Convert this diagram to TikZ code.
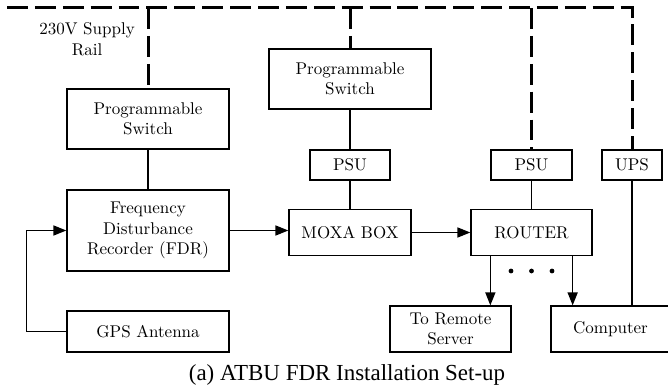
\documentclass[tikz,border=0pt]{standalone}
\usepackage{fontspec}
\newfontfamily\capfont{Liberation Serif}
\usetikzlibrary{arrows.meta}
\def\u{0.588pt}
\begin{document}
\begin{tikzpicture}[x=\u,y=-\u,
  box/.style={draw, line width=0.76pt, inner sep=0pt, align=center, font=\fontsize{10}{12}\selectfont},
  sz/.style 2 args={minimum width=#1*\u, minimum height=#2*\u},
  rail/.style={line width=1.76pt, dash pattern=on 12.3pt off 4.1pt},
  wire/.style={line width=0.76pt},
  arr/.style={wire, -{Triangle[length=7.6pt,width=5.9pt]}},
  lbl/.style={align=center, inner sep=0pt, font=\fontsize{10}{12}\selectfont}]
\useasboundingbox (0,0) rectangle (668,392);
% boxes
\node[box, sz={162}{60}] (ps1) at (148,119) {Programmable\\Switch};
\node[box, sz={162}{60}] (ps2) at (350,79) {Programmable\\Switch};
\node[box, sz={80}{30}] (psu1) at (350,165) {PSU};
\node[box, sz={81}{30}] (psu2) at (531.5,165) {PSU};
\node[box, sz={60}{30}] (ups) at (632,165) {UPS};
\node[box, sz={162}{81}] (fdr) at (148,230.5) {Frequency\\Disturbance\\Recorder (FDR)};
\node[box, sz={122}{46}] (moxa) at (350,232.5) {MOXA BOX};
\node[box, sz={121}{46}] (router) at (531.5,232.5) {ROUTER};
\node[box, sz={162}{41}] (gps) at (148,331.5) {GPS Antenna};
\node[box, sz={121}{46}] (remote) at (450.5,329) {To Remote\\Server};
\node[box, sz={119}{46}] (computer) at (610.5,329) {Computer};
\node[lbl] (raillbl) at (87,39) {230V Supply\\Rail};
\node[inner sep=0pt, font=\capfont\fontsize{13.5}{15}\selectfont] (cap) at (347,375) {(a) ATBU FDR Installation Set-up};
% supply rail
\coordinate (railL) at (7,8);
\coordinate (railR) at (632,8);
\draw[rail] (railL) -- (railR) -- (ups.north);
\draw[rail] (railL -| ps1.north) -- (ps1.north);
\draw[rail] (railL -| ps2.north) -- (ps2.north);
\draw[rail] (railL -| psu2.north) -- (psu2.north);
% wires
\draw[wire] (ps1) -- (fdr);
\draw[wire] (ps2) -- (psu1);
\draw[wire] (psu1) -- (moxa);
\draw[wire] (psu2) -- (router);
\draw[wire] (ups.south) -- (ups.south |- computer.north);
% arrows
\draw[arr] (fdr.east) -- (fdr.east -| moxa.west);
\draw[arr] (moxa) -- (router);
\draw[arr] (gps.west) -- ++(-40,0) |- (fdr.west);
\draw[arr] ([xshift=20*\u]router.south west) -- ([xshift=20*\u]router.south west |- remote.north);
\draw[arr] ([xshift=-20*\u]router.south east) -- ([xshift=-20*\u]router.south east |- computer.north);
% dots
\fill (511,271) circle[radius=1.4pt];
\fill (531.5,271) circle[radius=1.4pt];
\fill (552,271) circle[radius=1.4pt];
\end{tikzpicture}
\end{document}
